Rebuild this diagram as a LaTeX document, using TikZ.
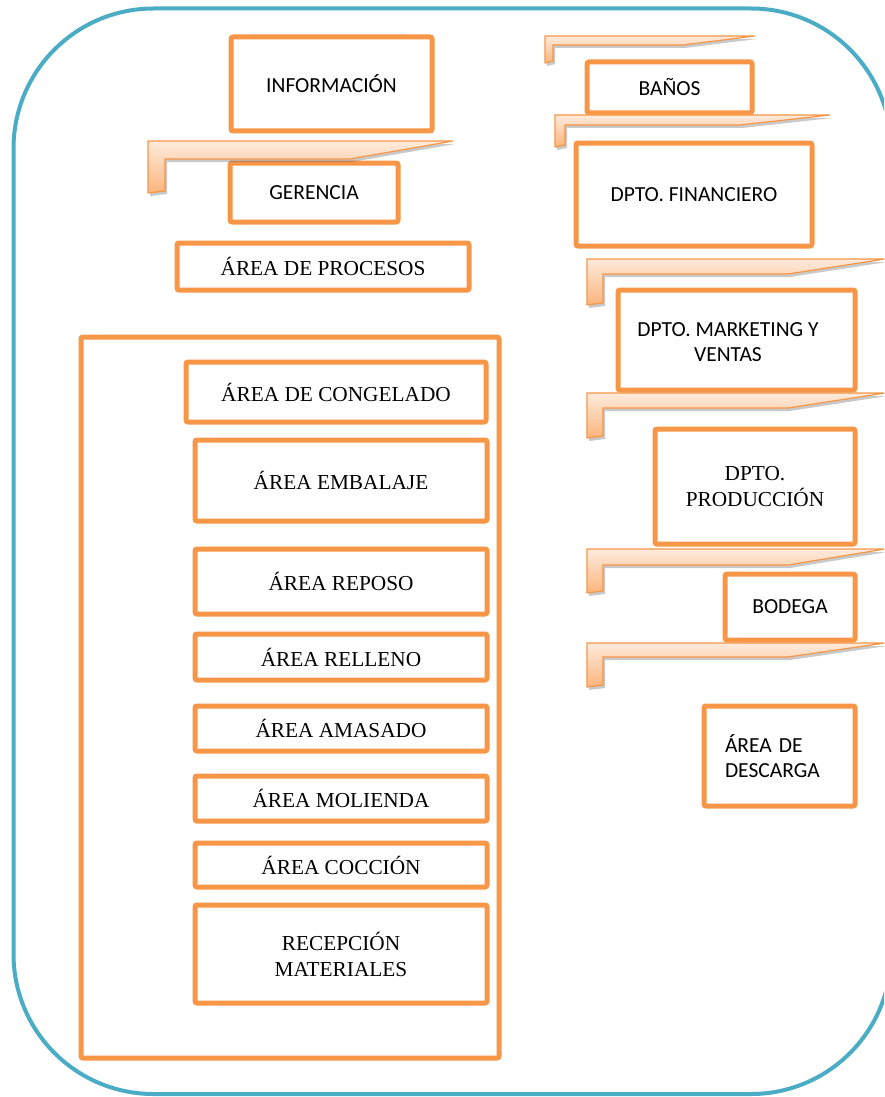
\documentclass[tikz,border=0pt]{standalone}
\usepackage{fontspec}
\setmainfont{Liberation Serif}
\newfontfamily\calibri{Carlito}
\usetikzlibrary{shadows}

\definecolor{framecol}{HTML}{4BACC6}
\definecolor{accent}{HTML}{F79646}
\definecolor{ledgetop}{HTML}{FEEBDC}
\definecolor{ledgebot}{HTML}{FBB47C}

% tapered L-shaped ledge: x0, y0, tip x, taper start x, bar height, leg width, leg height
\newcommand\orangeledge[7]{%
  \path[ledge] ({#1},{#2}) -- ({#3},{#2}) -- ({#4},{#2+#5})
    -- ({#1+#6},{#2+#5}) -- ({#1+#6},{#2+#7-2}) -- ({#1},{#2+#7}) -- cycle;}

\tikzset{
  box/.style={draw=accent, line width=5pt, rounded corners=2pt, fill=white,
    inner sep=0pt, align=center, text=black},
  sans/.style={font=\calibri\fontsize{21.5}{25}\selectfont},
  serif/.style={font=\fontsize{21.3}{26}\selectfont},
  ledge/.style={draw=accent, line width=1.2pt, top color=ledgetop,
    bottom color=ledgebot,
    drop shadow={shadow xshift=2pt, shadow yshift=-3pt, opacity=0.3, fill=black!70}},
}

\begin{document}
\begin{tikzpicture}[x=1pt, y=-1pt]
\useasboundingbox (0,0) rectangle (884,1097);
\clip (0,0) rectangle (884,1097);

% outer rounded frame
\draw[framecol, line width=4pt, rounded corners=140pt] (13.5,8.5) rectangle (891,1094);

% left column
\node[box, sans, minimum width=201pt, minimum height=94pt] (info) at (331.5,84) {INFORMACIÓN};
\node[box, sans, minimum width=168pt, minimum height=59pt] (gerencia) at (314,192.5) {GERENCIA};
\node[box, serif, minimum width=292pt, minimum height=47pt] (procesos) at (323,266.5) {ÁREA DE PROCESOS};

\node[box, minimum width=418pt, minimum height=721pt] (container) at (290,697.5) {};
\node[box, serif, minimum width=300pt, minimum height=60pt] (congelado) at (336,392) {ÁREA DE CONGELADO};
\node[box, serif, minimum width=292pt, minimum height=81pt] (embalaje) at (341,480.5) {ÁREA EMBALAJE};
\node[box, serif, minimum width=292pt, minimum height=65pt] (reposo) at (341,581.5) {ÁREA REPOSO};
\node[box, serif, minimum width=292pt, minimum height=46pt] (relleno) at (341,657) {ÁREA RELLENO};
\node[box, serif, minimum width=292pt, minimum height=45pt] (amasado) at (341,728.5) {ÁREA AMASADO};
\node[box, serif, minimum width=292pt, minimum height=45pt] (molienda) at (341,798.5) {ÁREA MOLIENDA};
\node[box, serif, minimum width=292pt, minimum height=44pt] (coccion) at (341,865) {ÁREA COCCIÓN};
\node[box, serif, minimum width=292pt, minimum height=98pt] (recepcion) at (341,954) {RECEPCIÓN\\MATERIALES};

% right column
\node[box, sans, minimum width=165pt, minimum height=51pt] (banos) at (669.5,87.5) {BAÑOS};
\node[box, sans, minimum width=236pt, minimum height=103pt] (financiero) at (694,194.5) {DPTO. FINANCIERO};
\node[box, sans, minimum width=237pt, minimum height=100pt] (marketing) at (736.5,340) {};
\node[sans, align=center, inner sep=0pt] (marketingtxt) at (728,342) {DPTO. MARKETING Y\\VENTAS};
\node[box, serif, minimum width=200pt, minimum height=115pt] (produccion) at (755,486.5) {DPTO.\\PRODUCCIÓN};
\node[box, sans, minimum width=130pt, minimum height=66pt] (bodega) at (790,607) {\raisebox{-3pt}{BODEGA}};
\node[box, sans, minimum width=151pt, minimum height=100pt, align=left,
  text width=109pt, inner xsep=21pt] (descarga) at (779.5,756) {ÁREA DE\\DESCARGA};

% ledges
\orangeledge{148}{141}{453}{350}{18}{17}{52}
\orangeledge{545}{36}{755}{683}{9}{8}{27}
\orangeledge{555}{115}{830}{740}{10}{10}{32}
\orangeledge{587}{259}{885}{788}{15}{16}{46}
\orangeledge{587}{393}{885}{788}{15}{16}{45}
\orangeledge{587}{549}{885}{788}{16}{16}{44}
\orangeledge{587}{643}{885}{788}{14}{16}{44}
\end{tikzpicture}
\end{document}
